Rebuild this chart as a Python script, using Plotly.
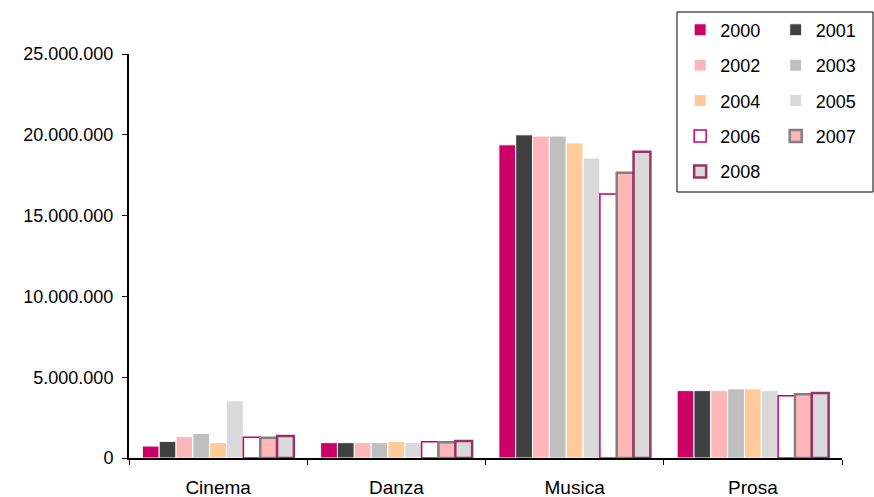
import plotly.graph_objects as go

categories = ["Cinema", "Danza", "Musica", "Prosa"]
years = ["2000", "2001", "2002", "2003", "2004", "2005", "2006", "2007", "2008"]
v2000 = [740000, 950000, 19380000, 4170000]
v2001 = [1030000, 950000, 20000000, 4170000]
v2002 = [1320000, 950000, 19920000, 4170000]
v2003 = [1520000, 950000, 19920000, 4280000]
v2004 = [950000, 1030000, 19500000, 4280000]
v2005 = [3540000, 950000, 18560000, 4170000]
v2006 = [1280000, 1000000, 16340000, 3850000]
v2007 = [1260000, 980000, 17650000, 3950000]
v2008 = [1360000, 1050000, 18950000, 4030000]
values = [v2000, v2001, v2002, v2003, v2004, v2005, v2006, v2007, v2008]

fills = ["#CC0066", "#404040", "#FFB6B9", "#BFBFBF", "#FFCC99", "#D9D9D9", "#FFFFFF", "#FFB6B9", "#D9D9D9"]
borders = ["#FFFFFF"] * 6 + ["#CC0066", "#808080", "#993366"]
bwidths = [1, 1, 1, 1, 1, 1, 1.5, 2.5, 2.5]

fig = go.Figure()
for i, (y, vals) in enumerate(zip(years, values)):
    fig.add_trace(go.Bar(
        x=categories, y=vals, name=y,
        marker=dict(color=fills[i], line=dict(color=borders[i], width=bwidths[i])),
        legend="legend" if i % 2 == 0 else "legend2",
        legendgroup=y,
    ))

FONT = "Liberation Sans, Arial, sans-serif"
leg_common = dict(
    font=dict(family=FONT, size=18, color="#000000"),
    bgcolor="rgba(0,0,0,0)", borderwidth=0,
    xanchor="left", yanchor="top", tracegroupgap=9,
    itemwidth=30,
)
fig.update_layout(
    width=874, height=497,
    margin=dict(l=129, r=32, t=54, b=39, autoexpand=False),
    paper_bgcolor="white", plot_bgcolor="white",
    barmode="group", bargap=0.15, bargroupgap=0,
    separators=",.",
    font=dict(family=FONT, size=18, color="#000000"),
    legend=dict(x=0.773, y=1.105, **leg_common),
    legend2=dict(x=0.907, y=1.105, **leg_common),
    shapes=[dict(type="rect", xref="paper", yref="paper",
                 x0=(677 - 129) / 713, x1=(873 - 129) / 713,
                 y0=(458 - 192) / 404, y1=(458 - 12) / 404,
                 line=dict(color="#000000", width=1), fillcolor="rgba(0,0,0,0)")],
)
fig.update_xaxes(
    showline=True, linecolor="#000000", linewidth=2,
    ticks="outside", tickson="boundaries", ticklen=5, tickcolor="#000000",
    showgrid=False, tickfont=dict(size=19), ticklabelstandoff=11,
)
fig.update_yaxes(
    range=[0, 25000000], tickvals=[0, 5000000, 10000000, 15000000, 20000000, 25000000],
    tickformat=",d", showline=True, linecolor="#000000", linewidth=2,
    ticks="outside", ticklen=5, tickcolor="#000000", showgrid=False, zeroline=False,
    tickfont=dict(size=18), ticklabelstandoff=5,
)
fig.write_html("out.html")
